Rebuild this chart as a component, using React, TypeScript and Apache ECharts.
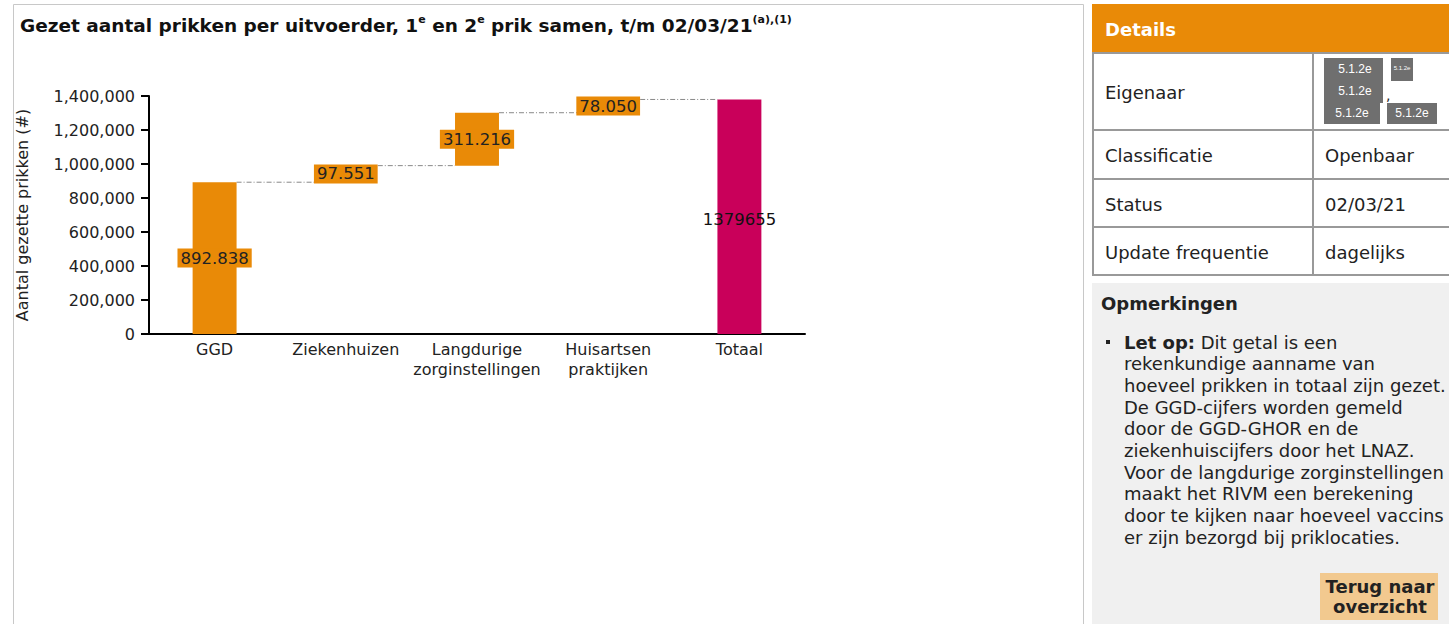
import React, { useEffect, useRef } from "react";
import * as echarts from "echarts";

const categories = ["GGD", "Ziekenhuizen", "Langdurige\nzorginstellingen", "Huisartsen\npraktijken", "Totaal"];
const values = [892838, 97551, 311216, 78050, 1379655];
const isTotal = [false, false, false, false, true];
const yMax = 1400000;
const yInterval = 200000;

const titleParts = ["Gezet aantal prikken per uitvoerder, 1", "e", " en 2", "e", " prik samen, t/m 02/03/21", "(a),(1)"];
const yAxisName = "Aantal gezette prikken (#)";

const panelHeader = "Details";
const rowLabels = ["Eigenaar", "Classificatie", "Status", "Update frequentie"];
const rowValues = ["", "Openbaar", "02/03/21", "dagelijks"];
const redactText = "5.1.2e";
const notesTitle = "Opmerkingen";
const noteBold = "Let op:";
const noteLines = [
  " Dit getal is een",
  "rekenkundige aanname van",
  "hoeveel prikken in totaal zijn gezet.",
  "De GGD-cijfers worden gemeld",
  "door de GGD-GHOR en de",
  "ziekenhuiscijfers door het LNAZ.",
  "Voor de langdurige zorginstellingen",
  "maakt het RIVM een berekening",
  "door te kijken naar hoeveel vaccins",
  "er zijn bezorgd bij priklocaties.",
];
const buttonLines = ["Terug naar", "overzicht"];

const FONT = "DejaVu Sans, Verdana, sans-serif";
const ORANGE = "#E98A07";
const MAGENTA = "#C9005A";
const TEXT = "#222";
const PF = 18; // page font size
const CF = 16; // chart font size

const dotFmt = (v: number) => String(v).replace(/\B(?=(\d{3})+(?!\d))/g, ".");
const commaFmt = (v: number) => String(v).replace(/\B(?=(\d{3})+(?!\d))/g, ",");

export default function App() {
  const ref = useRef<HTMLDivElement>(null);
  useEffect(() => {
    if (!ref.current) return;
    const chart = echarts.init(ref.current, null, { renderer: "svg" });

    const base: number[] = [];
    const tops: number[][] = [];
    let cum = 0;
    values.forEach((v, i) => {
      if (isTotal[i]) {
        base.push(0);
      } else {
        base.push(cum);
        cum += v;
        tops.push([i, cum]);
      }
    });

    const graphics: any[] = [];
    graphics.push({ type: "rect", silent: true, shape: { x: 13.5, y: 4.5, width: 1070, height: 700 }, style: { fill: "none", stroke: "#c8c8c8", lineWidth: 1 } });
    graphics.push({ type: "rect", silent: true, shape: { x: 1092, y: 283, width: 357, height: 341 }, style: { fill: "#f0f0f0" } });
    graphics.push({ type: "rect", silent: true, shape: { x: 1092, y: 4, width: 357, height: 49 }, style: { fill: ORANGE } });
    graphics.push({ type: "text", silent: true, style: { text: panelHeader, x: 1105, y: 29, fill: "#fff", fontFamily: FONT, fontSize: PF, fontWeight: "bold", verticalAlign: "middle" } });
    [53, 130, 179, 227, 275].forEach((y) => {
      graphics.push({ type: "line", silent: true, shape: { x1: 1092, y1: y, x2: 1449, y2: y }, style: { stroke: "#999", lineWidth: 2 } });
    });
    [1093, 1313].forEach((x) => {
      graphics.push({ type: "line", silent: true, shape: { x1: x, y1: 53, x2: x, y2: 275 }, style: { stroke: "#999", lineWidth: 2 } });
    });
    const rowY = [92, 155, 204, 252];
    rowLabels.forEach((t, i) => {
      graphics.push({ type: "text", silent: true, style: { text: t, x: 1105, y: rowY[i], fill: TEXT, fontFamily: FONT, fontSize: PF, verticalAlign: "middle" } });
      if (rowValues[i]) {
        graphics.push({ type: "text", silent: true, style: { text: rowValues[i], x: 1325, y: rowY[i], fill: TEXT, fontFamily: FONT, fontSize: PF, verticalAlign: "middle" } });
      }
    });
    const gray = "#6f6f6f";
    graphics.push({ type: "rect", silent: true, shape: { x: 1324, y: 58, width: 59, height: 45 }, style: { fill: gray } });
    graphics.push({ type: "rect", silent: true, shape: { x: 1324, y: 103, width: 56, height: 21 }, style: { fill: gray } });
    graphics.push({ type: "rect", silent: true, shape: { x: 1391, y: 58, width: 22, height: 23 }, style: { fill: gray } });
    graphics.push({ type: "rect", silent: true, shape: { x: 1387, y: 103, width: 50, height: 21 }, style: { fill: gray } });
    const red: [number, number, number][] = [[1355, 69, 12], [1355, 91, 12], [1352, 113, 12], [1412, 113, 12], [1402, 68, 6]];
    red.forEach(([x, y, fs]) => {
      graphics.push({ type: "text", silent: true, style: { text: redactText, x, y, fill: "#fff", fontFamily: "Liberation Sans, Arial, sans-serif", fontSize: fs, align: "center", verticalAlign: "middle" } });
    });
    graphics.push({ type: "text", silent: true, style: { text: ",", x: 1386, y: 95, fill: TEXT, fontFamily: FONT, fontSize: 14, verticalAlign: "middle" } });
    graphics.push({ type: "text", silent: true, style: { text: notesTitle, x: 1101, y: 303, fill: TEXT, fontFamily: FONT, fontSize: PF, fontWeight: "bold", verticalAlign: "middle" } });
    graphics.push({ type: "rect", silent: true, shape: { x: 1106, y: 340, width: 4, height: 4 }, style: { fill: TEXT } });
    noteLines.forEach((t, i) => {
      const y = 342 + i * 21.7;
      graphics.push({
        type: "text",
        silent: true,
        style: {
          text: i === 0 ? `{b|${noteBold}}{n|${t}}` : `{n|${t}}`,
          x: 1124,
          y,
          verticalAlign: "middle",
          rich: {
            b: { fontFamily: FONT, fontSize: PF, fontWeight: "bold", fill: TEXT },
            n: { fontFamily: FONT, fontSize: PF, fill: TEXT },
          },
        },
      });
    });
    graphics.push({ type: "rect", silent: true, shape: { x: 1320, y: 573, width: 118, height: 47 }, style: { fill: "#F2C98F" } });
    buttonLines.forEach((t, i) => {
      graphics.push({ type: "text", silent: true, style: { text: t, x: 1380, y: 586 + i * 20, fill: TEXT, fontFamily: FONT, fontSize: PF, fontWeight: "bold", align: "center", verticalAlign: "middle" } });
    });

    chart.setOption({
      animation: false,
      backgroundColor: "#fff",
      title: {
        left: 20,
        top: 14,
        padding: 0,
        text:
          `{t|${titleParts[0]}}{s|${titleParts[1]}}{t|${titleParts[2]}}{s|${titleParts[3]}}{t|${titleParts[4]}}{s|${titleParts[5]}}`,
        textStyle: {
          rich: {
            t: { fontFamily: FONT, fontSize: 18.5, fontWeight: "bold", color: "#111", lineHeight: 22 },
            s: { fontFamily: FONT, fontSize: 11, fontWeight: "bold", color: "#111", lineHeight: 11, verticalAlign: "top" },
          },
        },
      },
      grid: { left: 149, right: 644, top: 96, bottom: 290 },
      xAxis: {
        type: "category",
        data: categories,
        axisLine: { lineStyle: { color: "#000", width: 2 } },
        axisTick: { show: false },
        axisLabel: { interval: 0, color: TEXT, fontFamily: FONT, fontSize: CF, lineHeight: 20, margin: 5 },
      },
      yAxis: {
        type: "value",
        min: 0,
        max: yMax,
        interval: yInterval,
        name: yAxisName,
        nameLocation: "middle",
        nameRotate: 90,
        nameGap: 119,
        nameTextStyle: { color: TEXT, fontFamily: FONT, fontSize: CF },
        axisLine: { show: true, lineStyle: { color: "#000", width: 2 } },
        axisTick: { show: true, length: 8, lineStyle: { color: "#000", width: 2 } },
        splitLine: { show: false },
        axisLabel: { color: TEXT, fontFamily: FONT, fontSize: CF, margin: 14, formatter: (v: number) => commaFmt(v) },
      },
      series: [
        {
          type: "bar",
          stack: "w",
          barWidth: "33.5%",
          silent: true,
          itemStyle: { color: "transparent" },
          data: base,
        },
        {
          type: "bar",
          stack: "w",
          barWidth: "33.5%",
          data: values.map((v, i) => ({
            value: v,
            itemStyle: { color: isTotal[i] ? MAGENTA : ORANGE },
            label: isTotal[i] ? { backgroundColor: "transparent", color: "#111", offset: [0, 3] } : undefined,
          })),
          label: {
            show: true,
            position: "inside",
            fontFamily: FONT,
            fontSize: 16.5,
            color: TEXT,
            backgroundColor: ORANGE,
            padding: [0, 3],
            lineHeight: 19,
            formatter: (p: any) => (isTotal[p.dataIndex] ? String(p.value) : dotFmt(p.value)),
          },
          z: 3,
        },
        {
          type: "custom",
          silent: true,
          z: 2,
          encode: { x: 0, y: 1 },
          data: tops,
          renderItem: (params: any, api: any) => {
            const i = api.value(0);
            const v = api.value(1);
            const p1 = api.coord([i, v]);
            const p2 = api.coord([i + 1, v]);
            const half = (api.size([1, 0])[0] * 0.335) / 2;
            return {
              type: "line",
              shape: { x1: p1[0] + half, y1: p1[1], x2: p2[0] - half, y2: p2[1] },
              style: { stroke: "#888", lineWidth: 1, lineDash: [5, 2, 1, 2] },
            };
          },
        },
      ],
      graphic: graphics,
    });
    return () => chart.dispose();
  }, []);
  return <div ref={ref} style={{ position: "absolute", left: 0, top: 0, width: 1449, height: 624 }} />;
}
